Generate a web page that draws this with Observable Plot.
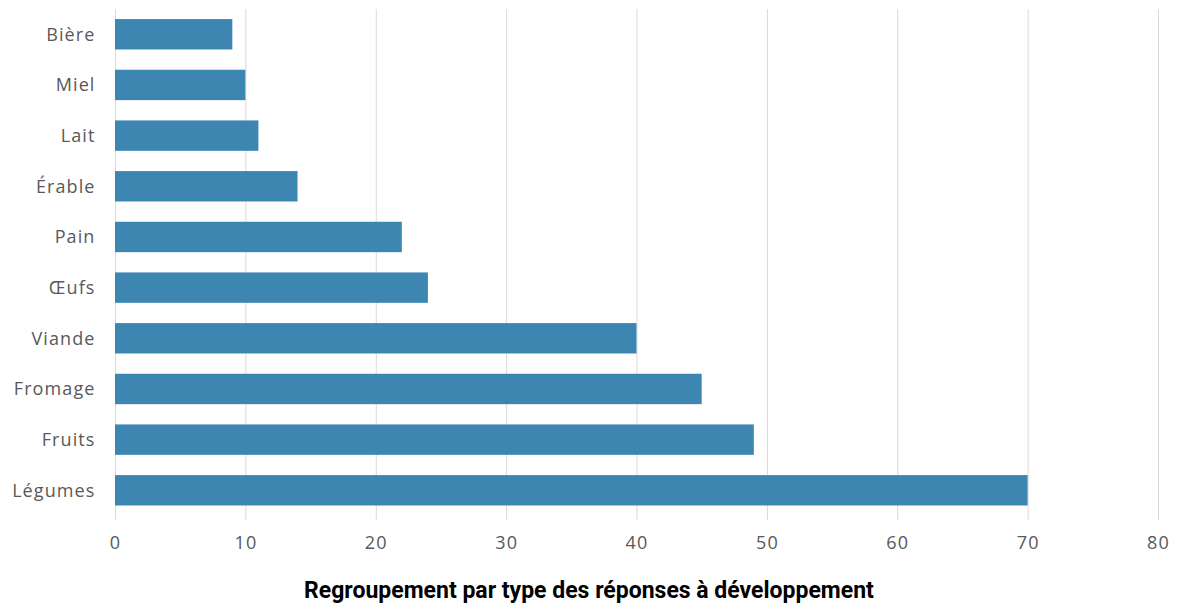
<!DOCTYPE html>
<html lang="fr">
<head>
<meta charset="utf-8">
<script src="https://cdn.jsdelivr.net/npm/d3@7"></script>
<script src="https://cdn.jsdelivr.net/npm/@observablehq/plot@0.6"></script>
<style>
  html, body { margin: 0; padding: 0; background: #fff; }
  #chart svg { display: block; }
  #chart svg text { letter-spacing: 1.1px; }
  #title {
    font-family: Roboto, sans-serif;
    font-weight: 700;
    font-size: 23px;
    color: #000;
    text-align: center;
    width: 1178px;
    margin-top: 17px;
  }
</style>
</head>
<body>
<div id="chart"></div>
<div id="title">Regroupement par type des réponses à développement</div>
<script>
// Product categories, top to bottom
const categories = ["Bière", "Miel", "Lait", "Érable", "Pain", "Œufs", "Viande", "Fromage", "Fruits", "Légumes"];
// Number of answers per category
const counts = [9, 10, 11, 14, 22, 24, 40, 45, 49, 70];
// x-axis ticks
const xTicks = [0, 10, 20, 30, 40, 50, 60, 70, 80];

const data = categories.map((c, i) => ({category: c, count: counts[i]}));

const chart = Plot.plot({
  width: 1178,
  height: 560,
  marginLeft: 115,
  marginRight: 20,
  marginTop: 9,
  marginBottom: 40,
  style: {fontFamily: "'Open Sans', sans-serif", fontSize: "18px", color: "#595959", background: "#fff"},
  x: {domain: [0, 80], ticks: xTicks},
  y: {domain: categories, paddingInner: 0.4, paddingOuter: 0.2425, align: 0.41, round: false},
  marks: [
    Plot.ruleX(xTicks, {stroke: "#d9d9d9", strokeWidth: 1}),
    Plot.barX(data, {x: "count", y: "category", fill: "#3e86b2"}),
    Plot.axisX({ticks: xTicks, tickSize: 0, tickPadding: 16, label: null, fill: "#595959", fontSize: 18}),
    Plot.axisY({tickSize: 0, tickPadding: 20, label: null, fill: "#595959", fontSize: 18})
  ]
});
document.getElementById("chart").append(chart);
</script>
</body>
</html>
